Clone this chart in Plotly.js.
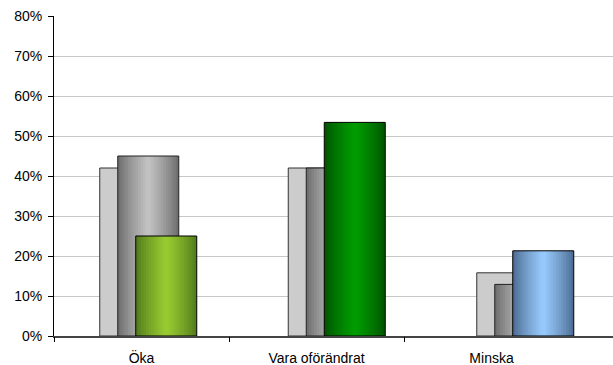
<!DOCTYPE html>
<html>
<head>
<meta charset="utf-8">
<script src="https://cdn.plot.ly/plotly-3.0.1.min.js"></script>
<style>html,body{margin:0;padding:0;background:#fff;}#chart{width:613px;height:365px;}</style>
</head>
<body>
<div id="chart"></div>
<script>
// Data
var categories = ['Öka', 'Vara oförändrat', 'Minska'];
var seriesBack = [0.42, 0.42, 0.158];
var seriesMiddle = [0.45, 0.42, 0.129];
var seriesFront = [0.25, 0.534, 0.213];
var yTickVals = [0, 0.1, 0.2, 0.3, 0.4, 0.5, 0.6, 0.7, 0.8];
var yTickText = ['0%', '10%', '20%', '30%', '40%', '50%', '60%', '70%', '80%'];

// Styles
var backColor = '#cccccc';
var middleEdge = [104, 104, 104], middleCenter = [196, 196, 196];
var frontEdge = [[78, 118, 26], [0, 80, 0], [72, 102, 140]];
var frontCenter = [[154, 205, 50], [0, 158, 0], [153, 204, 255]];

var W = 0.3236, STEP = 0.0955, START = -0.2573;
var N = 24;
var xIdx = categories.map(function (c, i) { return i; });

function rgb(c) { return 'rgb(' + c.map(Math.round).join(',') + ')'; }
function mix(a, b, t) { return [a[0] + (b[0] - a[0]) * t, a[1] + (b[1] - a[1]) * t, a[2] + (b[2] - a[2]) * t]; }

var traces = [];
function solid(vals, off, color) {
  traces.push({type: 'bar', x: xIdx, y: vals, offset: off, width: W, marker: {color: color, line: {width: 0}}, hoverinfo: 'skip', showlegend: false});
}
function outline(vals, off, lc) {
  traces.push({type: 'bar', x: xIdx, y: vals, offset: off, width: W, marker: {color: 'rgba(0,0,0,0)', line: {width: 1, color: lc}}, hoverinfo: 'skip', showlegend: false});
}
function gradient(vals, off, edges, centers) {
  var sw = W / N;
  for (var i = 0; i < N; i++) {
    var t = 1 - Math.abs(2 * (i + 0.5) / N - 1);
    t = Math.pow(t, 0.8);
    var cols = xIdx.map(function (k) { return rgb(mix(edges[k], centers[k], t)); });
    var w = (i === N - 1) ? sw : sw * 1.6;
    traces.push({type: 'bar', x: xIdx, y: vals, offset: off + i * sw, width: w, marker: {color: cols, line: {width: 0}}, hoverinfo: 'skip', showlegend: false});
  }
}

solid(seriesBack, START, backColor);
outline(seriesBack, START, '#333333');
gradient(seriesMiddle, START + STEP, xIdx.map(function () { return middleEdge; }), xIdx.map(function () { return middleCenter; }));
outline(seriesMiddle, START + STEP, '#222222');
gradient(seriesFront, START + 2 * STEP, frontEdge, frontCenter);
outline(seriesFront, START + 2 * STEP, '#000000');

// dummy trace for label axis
traces.push({type: 'scatter', x: [0], y: [0], xaxis: 'x2', yaxis: 'y', mode: 'markers', marker: {opacity: 0}, hoverinfo: 'skip', showlegend: false});

var layout = {
  width: 613, height: 365,
  margin: {l: 54, r: 0, t: 16, b: 29, pad: 0},
  paper_bgcolor: '#ffffff', plot_bgcolor: '#ffffff',
  barmode: 'overlay',
  font: {family: 'Liberation Sans, Arial, sans-serif', size: 14, color: '#000'},
  xaxis: {
    range: [-0.5, 2.4655], showticklabels: false, ticks: '', showgrid: false, zeroline: false,
    showline: true, linecolor: '#444444', linewidth: 1.5, fixedrange: true
  },
  xaxis2: {
    overlaying: 'x', anchor: 'y', side: 'bottom',
    range: [-0.5, 2.694], tickmode: 'array', tickvals: [0, 1, 2], ticktext: categories,
    ticks: '', showgrid: false, zeroline: false, showline: false,
    ticklabelstandoff: 12,
    minor: {tickmode: 'array', tickvals: [-0.5, 0.5, 1.5], ticks: 'outside', ticklen: 5, tickcolor: '#000', tickwidth: 1, showgrid: false},
    tickfont: {size: 14, color: '#000'}
  },
  yaxis: {
    range: [0, 0.8], tickmode: 'array', tickvals: yTickVals, ticktext: yTickText,
    ticks: 'outside', ticklen: 5, tickcolor: '#000', tickwidth: 1,
    showline: true, linecolor: '#000', linewidth: 1,
    showgrid: true, gridcolor: '#c8c8c8', gridwidth: 1, zeroline: false,
    tickfont: {size: 14, color: '#000'}, ticklabelstandoff: 3
  }
};

Plotly.newPlot('chart', traces, layout, {staticPlot: true, displayModeBar: false});
</script>
</body>
</html>
